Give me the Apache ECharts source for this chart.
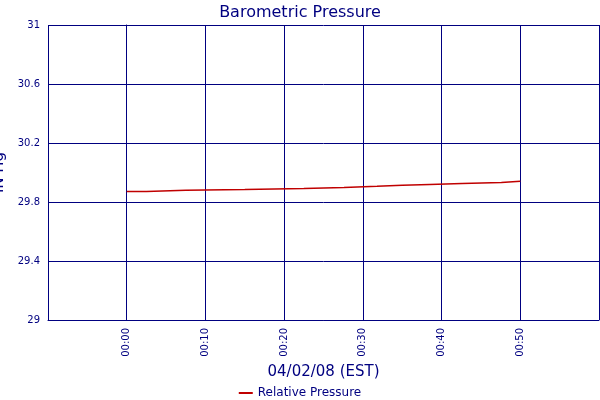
<!DOCTYPE html><html><head><meta charset="utf-8"><script src="https://cdn.jsdelivr.net/npm/echarts@6/dist/echarts.min.js"></script></head><body style="margin:0"><div id="c" style="width:600px;height:400px"></div><script>
const minutes=[0,2.5,7.5,15,22.5,27.6,31.8,35,38.5,42.6,47.6,50];
const pressure=[29.872,29.879,29.885,29.892,29.899,29.906,29.913,29.919,29.926,29.933,29.940,29.940];
const yTicks=[29,29.4,29.8,30.2,30.6,31];
const C='#000080';
const ch=echarts.init(document.getElementById('c'));
ch.setOption({animation:false,backgroundColor:'#fff',
title:{text:'Barometric Pressure',left:'center',top:0,textStyle:{color:C,fontSize:16,fontWeight:'normal',fontFamily:'DejaVu Sans'}},
grid:{left:48,right:1,top:25,bottom:80,containLabel:false,outerBoundsMode:'none'},
legend:{top:382,left:'center',data:['Relative Pressure'],icon:'rect',itemWidth:14,itemHeight:2,textStyle:{color:C,fontSize:12,fontFamily:'DejaVu Sans'}},
xAxis:{type:'value',min:-10,max:60,interval:10,name:'04/02/08 (EST)',nameLocation:'middle',nameGap:40,nameTextStyle:{color:C,fontSize:15,fontFamily:'DejaVu Sans'},
axisLine:{lineStyle:{color:C}},axisTick:{show:false},splitLine:{lineStyle:{color:C}},
axisLabel:{rotate:90,color:C,fontSize:10,fontFamily:'DejaVu Sans',margin:8,formatter:v=>(v<0||v>50)?'':'00:'+String(v).padStart(2,'0')}},
yAxis:{type:'value',min:29,max:31,interval:0.4,name:'IN Hg',nameLocation:'middle',nameGap:36,nameTextStyle:{color:C,fontSize:15,fontFamily:'DejaVu Sans'},
axisLine:{show:true,lineStyle:{color:C}},axisTick:{show:false},splitLine:{lineStyle:{color:C}},
axisLabel:{color:C,fontSize:10,fontFamily:'DejaVu Sans',margin:8,formatter:v=>{const t=yTicks.find(x=>Math.abs(x-v)<1e-6);return t===undefined?'':String(t);}}},
series:[{name:'Relative Pressure',type:'line',step:'end',symbol:'none',color:'#c00000',lineStyle:{width:1.5,color:'#c00000'},data:minutes.map((m,i)=>[m,pressure[i]])}]});
</script></body></html>
